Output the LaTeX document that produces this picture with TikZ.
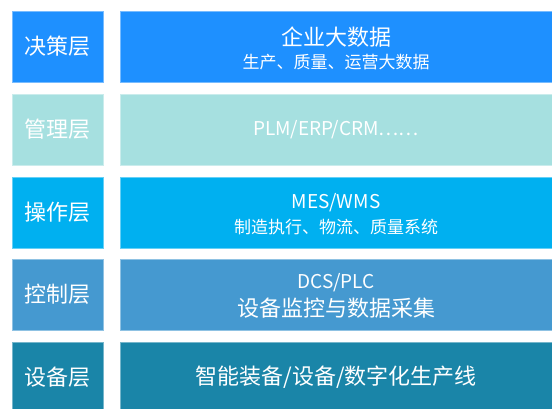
\documentclass[tikz,border=0pt]{standalone}
\usepackage{fontspec}
\setmainfont{Noto Sans CJK SC}
\definecolor{cA}{RGB}{30,144,255}
\definecolor{cB}{RGB}{166,224,224}
\definecolor{cC}{RGB}{0,176,240}
\definecolor{cD}{RGB}{69,153,208}
\definecolor{cE}{RGB}{26,133,168}
\tikzset{
  box/.style={rectangle, anchor=north west, inner sep=0pt, minimum height=71pt, line width=0.8pt},
  lbox/.style={box, minimum width=91pt},
  rbox/.style={box, minimum width=440pt},
  big/.style={text=white, inner sep=0pt, font=\fontsize{22}{25}\selectfont},
  small/.style={text=white, inner sep=0pt, font=\fontsize{17}{20}\selectfont},
  mid/.style={text=white, inner sep=0pt, font=\fontsize{19}{22}\selectfont},
}
\begin{document}
\begin{tikzpicture}[x=1pt,y=-1pt]
\useasboundingbox (0,0) rectangle (552,408);
\begin{scope}
\clip (0,0) rectangle (552,408);
% row 1
\node[lbox, fill=cA, draw=cA!60!white] (l1) at (12,11) {};
\node[rbox, fill=cA, draw=cA!60!white] (r1) at (120,11) {};
% row 2
\node[lbox, fill=cB, draw=cB!60!white] (l2) at (12,94) {};
\node[rbox, fill=cB, draw=cB!60!white] (r2) at (120,94) {};
% row 3
\node[lbox, fill=cC, draw=cC!60!white] (l3) at (12,177) {};
\node[rbox, fill=cC, draw=cC!60!white] (r3) at (120,177) {};
% row 4
\node[lbox, fill=cD, draw=cD!60!white] (l4) at (12,259) {};
\node[rbox, fill=cD, draw=cD!60!white] (r4) at (120,259) {};
% row 5
\node[lbox, fill=cE, draw=cE!60!white] (l5) at (12,342) {};
\node[rbox, fill=cE, draw=cE!60!white] (r5) at (120,342) {};
\end{scope}
% left labels
\node[big] (t1) at (57.5,46.5) {决策层};
\node[big] (t2) at (57.5,129.5) {管理层};
\node[big] (t3) at (57.5,212) {操作层};
\node[big] (t4) at (57.5,294.5) {控制层};
\node[big] (t5) at (57.5,377.5) {设备层};
% right texts
\node[big] (a1) at (336,37) {企业大数据};
\node[small] (b1) at (336,62) {生产、质量、运营大数据};
\node[mid] (a2) at (336,130) {PLM/ERP/CRM\ldots\ldots};
\node[mid] (a3) at (336,203) {MES/WMS};
\node[small] (b3) at (336,227) {制造执行、物流、质量系统};
\node[mid] (a4) at (336,283) {DCS/PLC};
\node[big] (b4) at (336,308) {设备监控与数据采集};
\node[big] (a5) at (336,377) {智能装备/设备/数字化生产线};
\end{tikzpicture}
\end{document}
